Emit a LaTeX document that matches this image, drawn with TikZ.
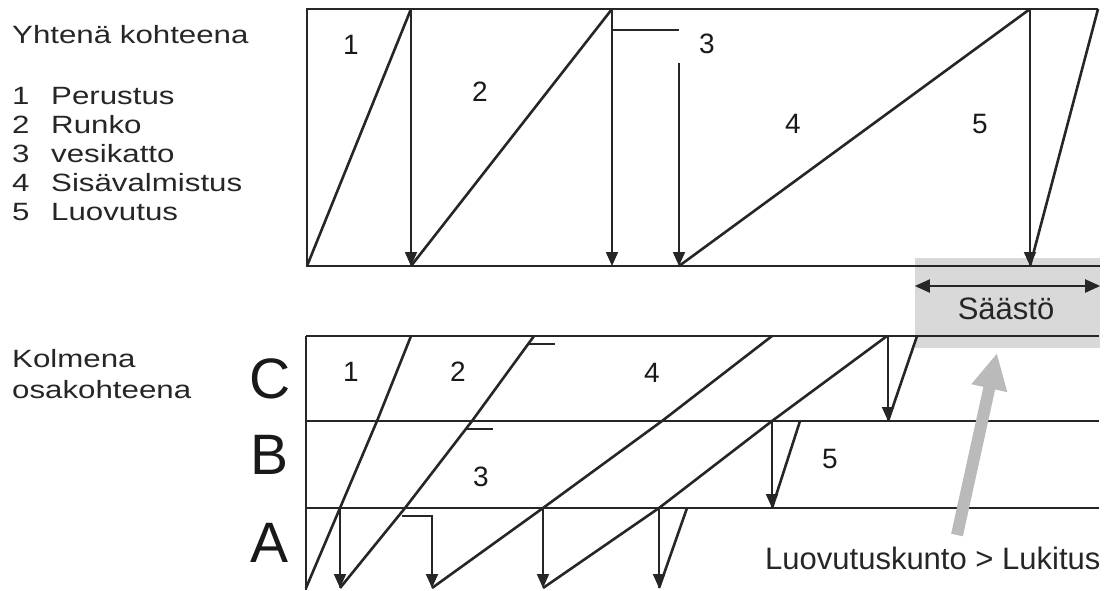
\documentclass[tikz,border=0pt]{standalone}
\usepackage{fontspec}
\setmainfont{Liberation Sans}
\newfontfamily\widefont[FakeStretch=1.25]{Liberation Sans}
\usetikzlibrary{arrows.meta}

\begin{document}
\begin{tikzpicture}[
      x=1pt, y=-1pt,
      frame/.style={draw=black!85, line width=2pt},
      phase/.style={draw=black!85, line width=2.6pt, line join=round},
      drop/.style={draw=black!85, line width=1.8pt, -{Triangle[length=14pt,width=12pt]}},
      span/.style={draw=black!85, line width=2pt,
                   {Triangle[length=15pt,width=13pt]}-{Triangle[length=15pt,width=13pt]}},
      num/.style={font=\fontsize{28}{30}\selectfont, inner sep=0pt, text=black!90},
      legend/.style={font=\widefont\fontsize{25}{29}\selectfont, anchor=base west,
                     inner sep=0pt, text=black!85},
      rowlbl/.style={font=\fontsize{57}{60}\selectfont, inner sep=0pt, text=black!90},
      savebox/.style={fill=black!15, minimum width=185pt, minimum height=90pt, inner sep=0pt},
      hint/.style={draw=black!27, line width=12pt, -{Triangle[length=36pt,width=34pt]}}
    ]
    \useasboundingbox (0,0) rectangle (1107,590);

    % legend
    \node[legend] (title) at (12,43)  {Yhtenä kohteena};
    \node[legend] (n1) at (12,104) {1}; \node[legend] (w1) at (51,104) {Perustus};
    \node[legend] (n2) at (12,133) {2}; \node[legend] (w2) at (51,133) {Runko};
    \node[legend] (n3) at (12,162) {3}; \node[legend] (w3) at (51,162) {vesikatto};
    \node[legend] (n4) at (12,191) {4}; \node[legend] (w4) at (51,191) {Sisävalmistus};
    \node[legend] (n5) at (12,220) {5}; \node[legend] (w5) at (51,220) {Luovutus};
    \node[legend] (split1) at (12,367) {Kolmena};
    \node[legend] (split2) at (12,398) {osakohteena};

    % saving
    \node[savebox] (save) at (1007.5,303) {};
    \node[font=\fontsize{31}{33}\selectfont, text=black!85] (saast) at (1006,309) {Säästö};
    \draw[span] (save.west |- 0,286) -- (save.east |- 0,286);

    % one object
    \draw[frame] (1098,9) -- (307,9) -- (307,266) -- (1100,266);
    \coordinate (a0)  at (307,266);
    \coordinate (a1t) at (411,9);   \coordinate (a1b) at (411,266);
    \coordinate (a2t) at (612,9);   \coordinate (a2b) at (612,266);
    \coordinate (a3t) at (679,63);  \coordinate (a3b) at (679,266);
    \coordinate (a4t) at (1030,9);  \coordinate (a4b) at (1030,266);
    \coordinate (a5t) at (1098,9);
    \draw[phase] (a0)  -- (a1t);
    \draw[drop]  (a1t) -- (a1b);
    \draw[phase] (a1b) -- (a2t);
    \draw[drop]  (a2t) -- (a2b);
    \draw[frame] (612,30) -- (679,30);
    \draw[drop]  (a3t) -- (a3b);
    \draw[phase] (a3b) -- (a4t);
    \draw[drop]  (a4t) -- (a4b);
    \draw[phase] (a4b) -- (a5t);

    \node[num] (p1) at (351,45)  {1};
    \node[num] (p2) at (480,92)  {2};
    \node[num] (p3) at (707,44)  {3};
    \node[num] (p4) at (793,124) {4};
    \node[num] (p5) at (980,124) {5};

    % three parts
    \draw[frame] (306,336) -- (1099,336);
    \draw[frame] (306,421) -- (1099,421);
    \draw[frame] (306,508) -- (1099,508);
    \draw[frame] (306,336) -- (306,590);

    \node[rowlbl] (rowC) at (270,379) {C};
    \node[rowlbl] (rowB) at (270,455) {B};
    \node[rowlbl] (rowA) at (270,543) {A};

    \coordinate (b0) at (306,588);
    \coordinate (b1) at (340,588);
    \coordinate (b2) at (432,588);
    \coordinate (b3) at (543,588);
    \coordinate (b4) at (659,588);
    \draw[phase] (b0) -- (340,508) -- (377,421) -- (411,336);
    \draw[drop]  (340,508) -- (b1);
    \draw[phase] (b1) -- (405,508) -- (472,421) -- (534,336);
    \draw[frame] (528,344) -- (555,344);
    \draw[frame] (466,429) -- (493,429);
    \draw[drop]  (402,516) -| (b2);
    \draw[phase] (b2) -- (543,508) -- (662,421) -- (772,336);
    \draw[drop]  (543,508) -- (b3);
    \draw[phase] (b3) -- (659,508) -- (772,421) -- (887,336);
    \draw[drop]  (659,508) -- (b4);
    \draw[phase] (b4) -- (687,508);
    \draw[drop]  (772,421) -- (772,508);
    \draw[phase] (772,508) -- (800,421);
    \draw[drop]  (888,336) -- (888,421);
    \draw[phase] (888,421) -- (917,336);

    \node[num] (q1) at (351,372) {1};
    \node[num] (q2) at (458,372) {2};
    \node[num] (q4) at (652,373) {4};
    \node[num] (q3) at (481,477) {3};
    \node[num] (q5) at (830,459) {5};

    % handover
    \node[font=\fontsize{31}{33}\selectfont, anchor=base west, inner sep=0pt, text=black!85]
      (lock) at (765,569) {Luovutuskunto > Lukitus};
    \coordinate (tail) at (957,535);
    \coordinate (tip)  at (997,353);
    \draw[hint] (tail) -- (tip);
  \end{tikzpicture}
\end{document}
